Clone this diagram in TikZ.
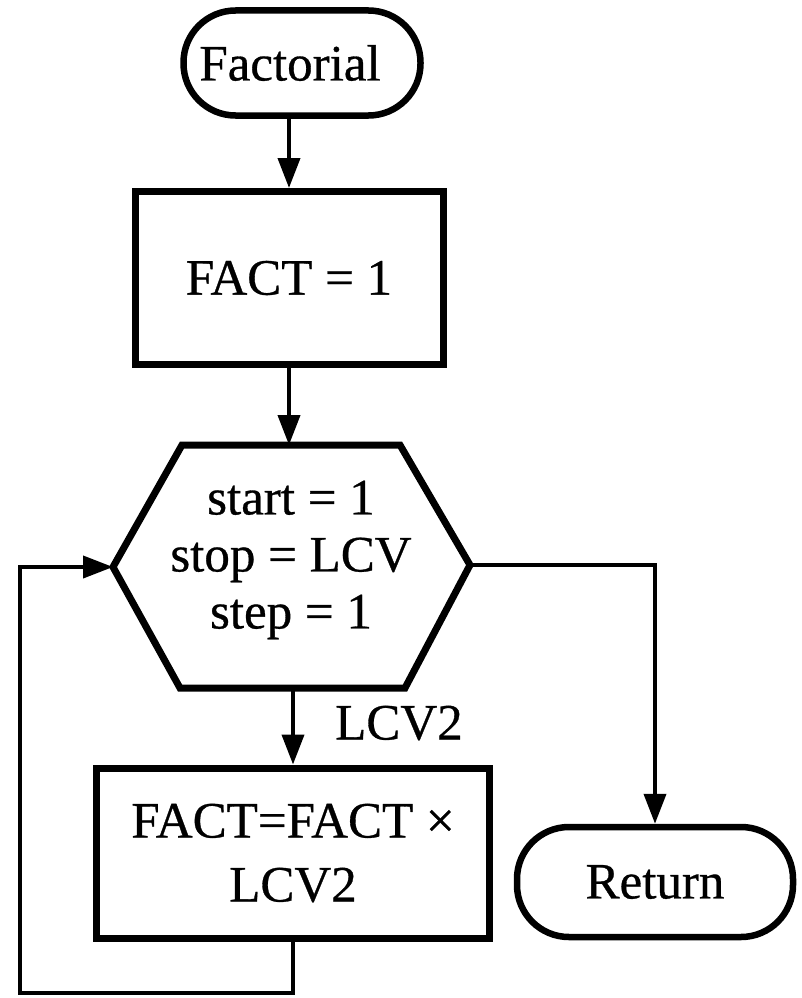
\documentclass[tikz,border=0pt]{standalone}
\usepackage{fontspec}
\setmainfont{Liberation Serif}[FakeBold=0.6]
\usetikzlibrary{arrows.meta}
\begin{document}
\begin{tikzpicture}[x=1pt,y=-1pt,
  every node/.style={font=\fontsize{51}{57}\selectfont, inner sep=0pt},
  term/.style={draw, line width=6.5pt, rounded corners=52pt},
  proc/.style={draw, line width=7pt, align=center},
  conn/.style={line width=4pt, -{Triangle[length=30pt,width=22pt]}},
  wire/.style={line width=4pt}]
\useasboundingbox (0,0) rectangle (801,998);

% terminals and process boxes
\node[term, minimum width=237pt, minimum height=105pt] (start) at (302,63) {\hspace*{-24pt}Factorial};
\node[proc, minimum width=308pt, minimum height=173pt] (init) at (289,278) {FACT = 1};
\node[proc, minimum width=393pt, minimum height=170pt] (body) at (293,853) {FACT=FACT ×\\[7pt]LCV2};
\node[term, minimum width=276pt, minimum height=110pt] (ret) at (655,882) {Return};

% loop hexagon
\coordinate (hexN) at (289,445);
\coordinate (hexS) at (293,688);
\coordinate (hexW) at (113,567);
\coordinate (hexE) at (470,565);
\draw[line width=7pt, line join=miter] (182,445) -- (400,445) -- (hexE)
  -- (405,688) -- (180,688) -- (hexW) -- cycle;
\node[align=center] (loop) at (291,560) {start = 1\\stop = LCV\\step = 1};
\node[anchor=west] (lcv) at (335,723) {LCV2};

% connectors
\coordinate (corner) at (20,993);
\draw[conn] (init.north |- start.south) -- (init.north);
\draw[conn] (init.south) -- (hexN);
\draw[conn] (hexS) -- (body.north);
\draw[conn] (body.south) -- (body.south |- corner) -- (corner) -- (corner |- hexW) -- (hexW);
\draw[conn] (hexE) -- (ret.north |- hexE) -- (ret.north);
\end{tikzpicture}
\end{document}
